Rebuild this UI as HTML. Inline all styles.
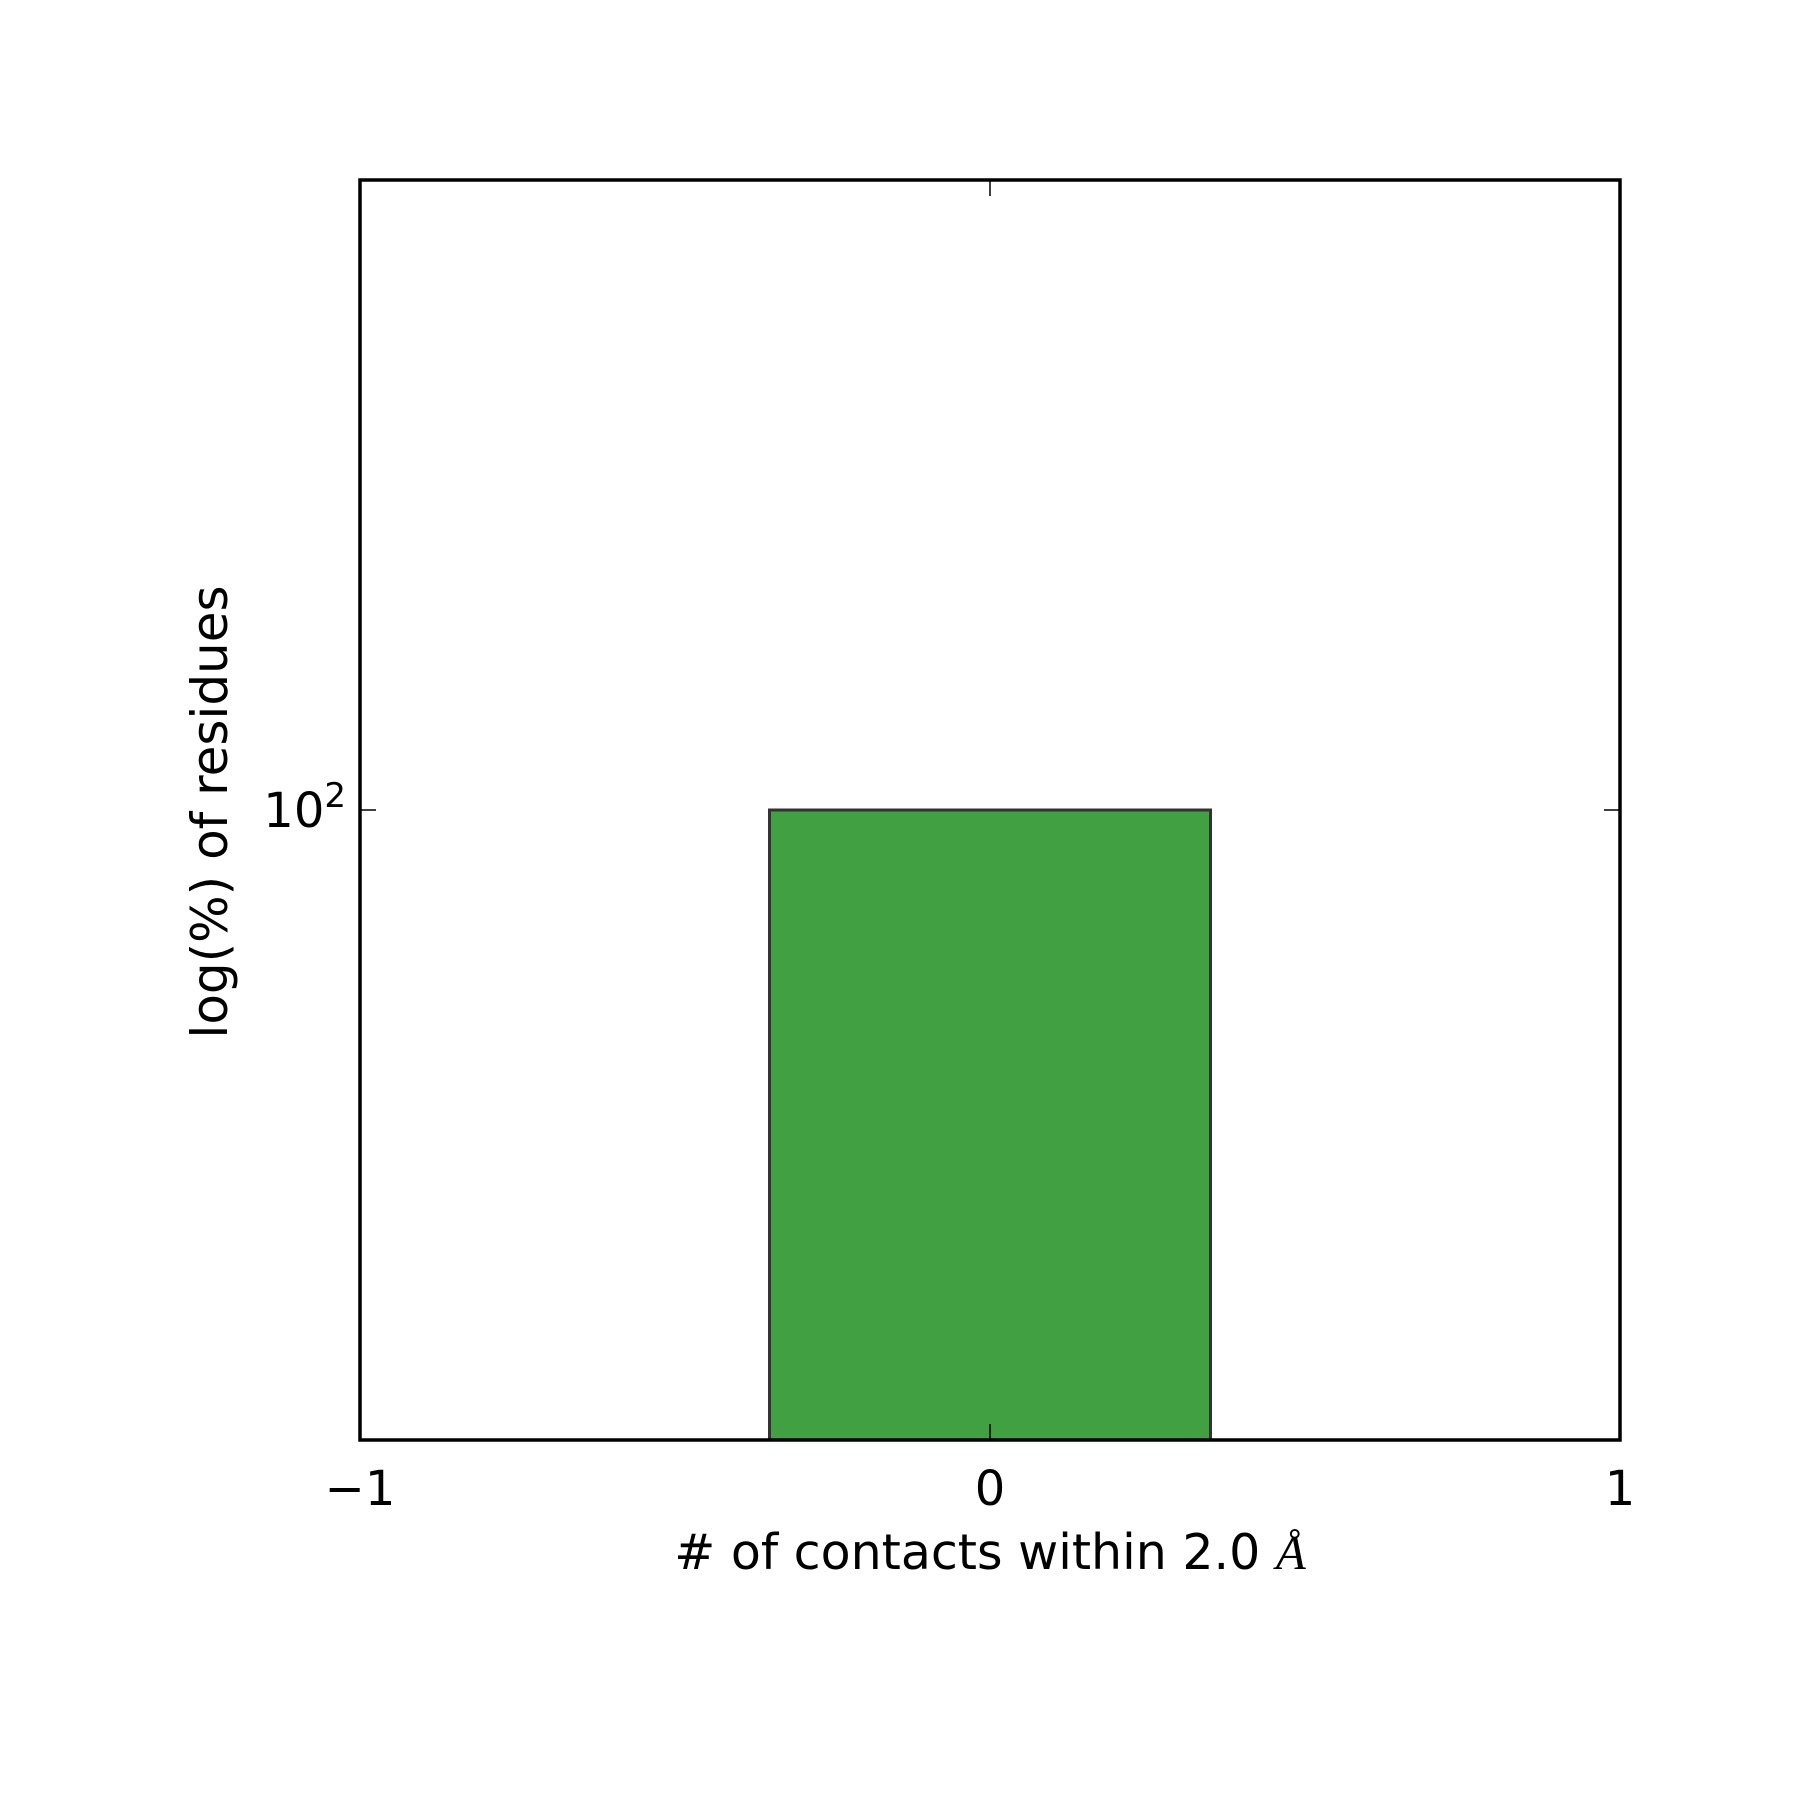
<!DOCTYPE html>
<html><head><meta charset="utf-8"><style>body{margin:0;background:#fff}svg{display:block}text{font-family:"DejaVu Sans","Liberation Sans",sans-serif;fill:#000}</style></head>
<body>
<svg id="chart" width="1800" height="1800" xmlns="http://www.w3.org/2000/svg">
<rect width="1800" height="1800" fill="#fff"/>
<g id="marks"></g>
<rect x="360" y="180" width="1260" height="1260" fill="none" stroke="#000" stroke-width="3.5"/>
<g id="ticks"></g>
<text x="990" y="1569" font-size="49" text-anchor="middle"># of contacts within 2.0 <tspan font-family="Liberation Serif" font-style="italic">Å</tspan></text>
<text transform="translate(227,812) rotate(-90)" font-size="50" text-anchor="middle">log(%) of residues</text>
</svg>
<script>
const categories = [0];
const values = [100];
const barWidth = 0.7;
const xTicks = [-1, 0, 1];
const xTickLabels = ["\u22121", "0", "1"];
const yTicks = [100];
const X0=360,X1=1620,Y0=1440,Y1=180;
const xmin=-1,xmax=1,lymin=1.5,lymax=2.5;
const xs=v=>X0+(v-xmin)/(xmax-xmin)*(X1-X0);
const ys=v=>Y0-(Math.log10(v)-lymin)/(lymax-lymin)*(Y0-Y1);
const NS="http://www.w3.org/2000/svg";
const marks=document.getElementById('marks'),ticks=document.getElementById('ticks');
categories.forEach((c,i)=>{
  const r=document.createElementNS(NS,'rect');
  const x=xs(c-barWidth/2),w=xs(c+barWidth/2)-x,y=ys(values[i]);
  r.setAttribute('x',x);r.setAttribute('y',y);r.setAttribute('width',w);r.setAttribute('height',Y0-y);
  r.setAttribute('fill','#41a041');r.setAttribute('stroke','#333');r.setAttribute('stroke-width','3');
  
  
  marks.appendChild(r);
});
xTicks.forEach((t,i)=>{
  const x=xs(t);
  const l=document.createElementNS(NS,'path');
  l.setAttribute('d',`M${x},${Y0}v-16M${x},${Y1}v16`);l.setAttribute('stroke','#000');l.setAttribute('stroke-width','1.5');
  
  
  ticks.appendChild(l);
  const tx=document.createElementNS(NS,'text');
  tx.setAttribute('x',x);tx.setAttribute('y',1505);tx.setAttribute('font-size','48');tx.setAttribute('text-anchor','middle');
  tx.textContent=xTickLabels[i];
  
  
  ticks.appendChild(tx);
});
yTicks.forEach(t=>{
  const y=ys(t);
  const l=document.createElementNS(NS,'path');
  l.setAttribute('d',`M${X0},${y}h16M${X1},${y}h-16`);l.setAttribute('stroke','#000');l.setAttribute('stroke-width','1.5');
  
  
  ticks.appendChild(l);
  const tx=document.createElementNS(NS,'text');
  tx.setAttribute('x',346);tx.setAttribute('y',y+17);tx.setAttribute('font-size','48');tx.setAttribute('text-anchor','end');
  tx.innerHTML='10<tspan font-size="34" dy="-20">'+Math.round(Math.log10(t))+'</tspan>';
  
  
  ticks.appendChild(tx);
});
</script>
</body></html>
